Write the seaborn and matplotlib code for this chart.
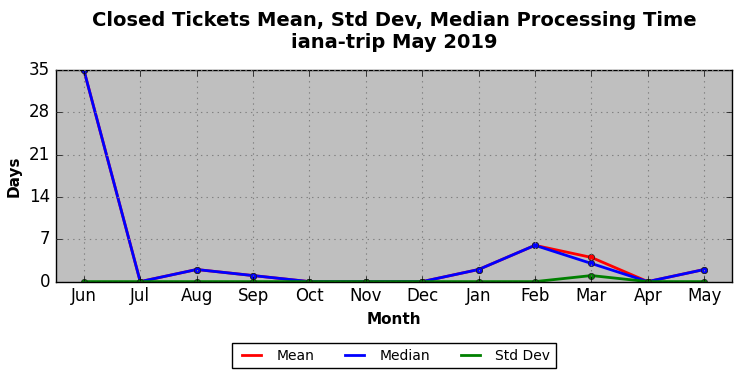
import matplotlib
matplotlib.use('Agg')
import matplotlib.pyplot as plt
import pandas as pd
import seaborn as sns

months = ['Jun', 'Jul', 'Aug', 'Sep', 'Oct', 'Nov', 'Dec', 'Jan', 'Feb', 'Mar', 'Apr', 'May']
mean_days = [35, 0, 2, 1, 0, 0, 0, 2, 6, 4, 0, 2]
median_days = [35, 0, 2, 1, 0, 0, 0, 2, 6, 3, 0, 2]
std_days = [0, 0, 0, 0, 0, 0, 0, 0, 0, 1, 0, 0]

df = pd.DataFrame({'x': range(len(months)), 'Mean': mean_days,
                   'Median': median_days, 'Std Dev': std_days})

plt.style.use('classic')
fig, ax = plt.subplots(figsize=(7.42, 3.78), dpi=100)
fig.patch.set_facecolor('white')
ax.set_facecolor('#bfbfbf')

for col, c in [('Mean', 'red'), ('Median', 'blue'), ('Std Dev', 'green')]:
    sns.lineplot(data=df, x='x', y=col, ax=ax, color=c, linewidth=2,
                 marker='o', markersize=4.5, markeredgecolor='#202020',
                 markeredgewidth=0.5, label=col, sort=False, legend=False)

ax.set_xlim(-0.5, len(months) - 0.5)
ax.set_ylim(0, 35)
ax.set_yticks([0, 7, 14, 21, 28, 35])
ax.set_xticks(range(len(months)))
ax.set_xticklabels(months)
ax.grid(True, color='gray', linestyle=':', linewidth=0.8)
ax.set_xlabel('Month', fontweight='bold', fontsize=11)
ax.set_ylabel('Days', fontweight='bold', fontsize=11)
ax.tick_params(labelsize=12)
ax.set_title('Closed Tickets Mean, Std Dev, Median Processing Time\niana-trip May 2019',
             fontweight='bold', fontsize=14, pad=16)

handles = [plt.Line2D([], [], color=c, linewidth=2) for c in ['red', 'blue', 'green']]
ax.legend(handles, ['Mean', 'Median', 'Std Dev'], loc='upper center',
          ncol=3, fontsize=10, bbox_to_anchor=(0.5, -0.29), fancybox=False,
          handlelength=2, columnspacing=1.9, borderaxespad=0)

fig.subplots_adjust(left=0.075, right=0.987, top=0.815, bottom=0.255)
fig.savefig('out.png', dpi=100)
